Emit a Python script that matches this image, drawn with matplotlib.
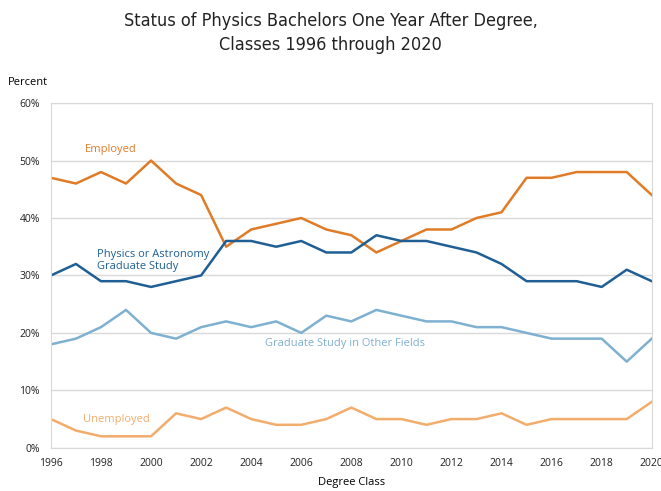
import matplotlib.pyplot as plt
from matplotlib.ticker import PercentFormatter

years = list(range(1996, 2021))
employed = [47, 46, 48, 46, 50, 46, 44, 35, 38, 39, 40, 38, 37, 34, 36, 38, 38, 40, 41, 47, 47, 48, 48, 48, 44]
physics_grad = [30, 32, 29, 29, 28, 29, 30, 36, 36, 35, 36, 34, 34, 37, 36, 36, 35, 34, 32, 29, 29, 29, 28, 31, 29]
other_grad = [18, 19, 21, 24, 20, 19, 21, 22, 21, 22, 20, 23, 22, 24, 23, 22, 22, 21, 21, 20, 19, 19, 19, 15, 19]
unemployed = [5, 3, 2, 2, 2, 6, 5, 7, 5, 4, 4, 5, 7, 5, 5, 4, 5, 5, 6, 4, 5, 5, 5, 5, 8]

c_emp = '#E07B27'
c_phys = '#1F5F94'
c_other = '#7EB0D0'
c_unemp = '#F2AC6C'

plt.rcParams['font.family'] = ['Open Sans', 'DejaVu Sans']

fig = plt.figure(figsize=(6.61, 4.91), dpi=100)
ax = fig.add_axes([0.077, 0.088, 0.909, 0.702])

ax.plot(years, employed, color=c_emp, lw=1.8)
ax.plot(years, physics_grad, color=c_phys, lw=1.8)
ax.plot(years, other_grad, color=c_other, lw=1.8)
ax.plot(years, unemployed, color=c_unemp, lw=1.8)

ax.text(1998.4, 52, 'Employed', color=c_emp, fontsize=8, ha='center', va='center')
ax.text(1997.85, 32.6, 'Physics or Astronomy\nGraduate Study', color=c_phys, fontsize=8,
        ha='left', va='center', linespacing=1.2)
ax.text(2004.55, 18.1, 'Graduate Study in Other Fields', color=c_other, fontsize=8,
        ha='left', va='center')
ax.text(1997.3, 5, 'Unemployed', color=c_unemp, fontsize=8, ha='left', va='center')

ax.set_xlim(1996, 2020)
ax.set_ylim(0, 60)
ax.set_xticks(range(1996, 2021, 2))
ax.set_yticks(range(0, 61, 10))
ax.yaxis.set_major_formatter(PercentFormatter(decimals=0))
ax.tick_params(length=0, labelsize=7.5, colors='#222222')
ax.tick_params(axis='x', pad=7)
ax.tick_params(axis='y', pad=8)
ax.grid(axis='y', color='#D9D9D9', lw=1)
for s in ax.spines.values():
    s.set_color('#D9D9D9')
ax.set_xlabel('Degree Class', fontsize=8, labelpad=6)
fig.text(0.012, 0.832, 'Percent', fontsize=8, ha='left', va='center')

fig.suptitle('Status of Physics Bachelors One Year After Degree,\nClasses 1996 through 2020',
             y=0.975, fontsize=13, family='DejaVu Sans', fontstretch='condensed',
             color='#222222', linespacing=1.4)

fig.savefig('out.png', dpi=100)
